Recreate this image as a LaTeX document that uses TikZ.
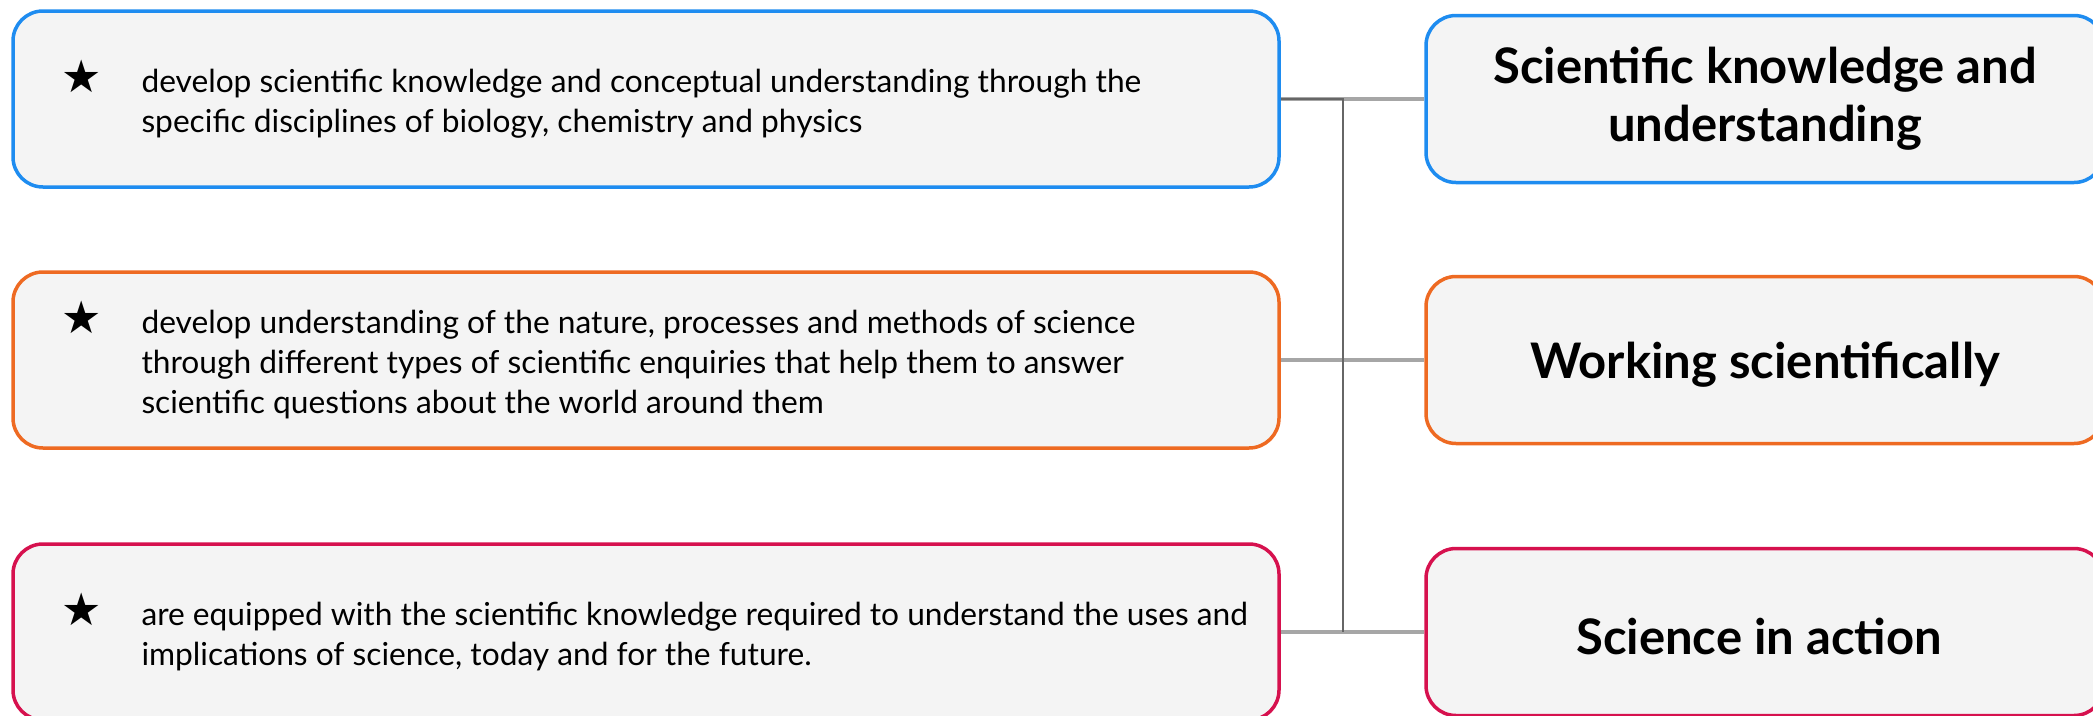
\documentclass[tikz,border=0pt]{standalone}
\usepackage{fontspec}
\setmainfont{Lato}
\newfontfamily\symfont{DejaVu Sans}
\definecolor{aimblue}{HTML}{1E8CF0}
\definecolor{aimorange}{HTML}{EE6A22}
\definecolor{aimred}{HTML}{D6114E}
\definecolor{boxfill}{HTML}{F4F4F4}
\newcommand{\aimtext}[1]{\rule{0pt}{33pt}\hspace*{47pt}\makebox[80pt][l]{\symfont\fontsize{45}{45}\selectfont ★}%
  \parbox[t]{1136pt}{\fontsize{31.7}{40}\selectfont #1}}
\begin{document}
\begin{tikzpicture}[x=1pt, y=-1pt,
    aim/.style={draw, line width=3.5pt, rounded corners=30pt, fill=boxfill,
      minimum width=1266pt, minimum height=176pt, inner sep=0pt},
    strand/.style={draw, line width=3.5pt, rounded corners=30pt, fill=boxfill,
      minimum width=678pt, minimum height=167pt, inner sep=0pt, align=center,
      font=\fontsize{49}{58}\selectfont\bfseries,
      execute at begin node=\rule{0pt}{46pt}},
    link/.style={line width=3.5pt, draw=black!35},
    trunk/.style={line width=2.5pt, draw=black!60}]
   \useasboundingbox (0,0) rectangle (2093,715);
   \foreach \i/\c/\y/\txt/\ttl in
     {1/aimblue/99/{develop scientific knowledge and conceptual understanding through the\\
        specific disciplines of biology, chemistry and physics}/{Scientific knowledge and\\ understanding},
      2/aimorange/360/{develop understanding of the nature, processes and methods of science\\
        through different types of scientific enquiries that help them to answer\\
        scientific questions about the world around them}/{Working scientifically},
      3/aimred/632/{are equipped with the scientific knowledge required to understand the uses and\\
        implications of science, today and for the future.}/{Science in action}
     }
   {
     \node[aim, draw=\c] (aim\i) at (646,\y) {\aimtext{\txt}};
     \node[strand, draw=\c] (strand\i) at (1765,\y) {\ttl};
     \draw[link] (aim\i.east) -- (strand\i.west);
   }
   \coordinate (split) at (1343,99);
   \draw[trunk] (aim1.east) -- (split) -- (split |- aim3.east);
\end{tikzpicture}
\end{document}
